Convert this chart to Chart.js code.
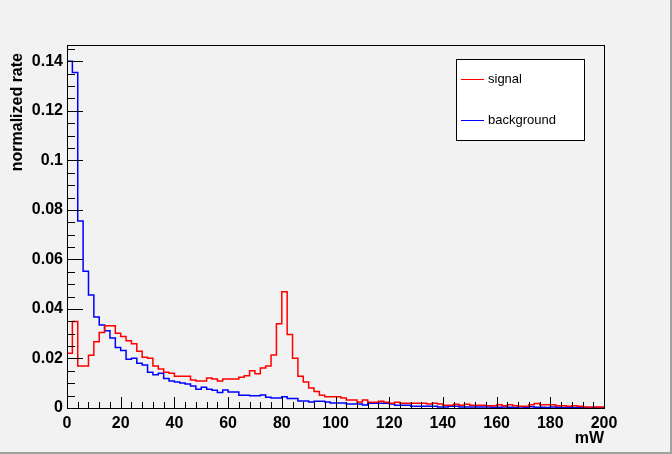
<!DOCTYPE html>
<html>
<head>
<meta charset="utf-8">
<title>signal / background</title>
<script src="https://cdn.jsdelivr.net/npm/chart.js@4.4.1/dist/chart.umd.min.js"></script>
<style>
  html, body { margin: 0; padding: 0; background: #f2f2f2; overflow: hidden; }
  #wrap { width: 672px; height: 454px; }
</style>
</head>
<body>
<div id="wrap"><canvas id="grafica" width="672" height="454"></canvas></div>
<script>
// histogramas de 100 bins de 2 mW (0 - 200 mW)
const binWidth = 2;

const signal = [
  0.0221, 0.0349, 0.0170, 0.0170, 0.0213, 0.0268, 0.0305, 0.0332, 0.0332, 0.0302,
  0.0289, 0.0272, 0.0259, 0.0229, 0.0205, 0.0201, 0.0170, 0.0158, 0.0144, 0.0140,
  0.0128, 0.0128, 0.0128, 0.0113, 0.0109, 0.0109, 0.0121, 0.0117, 0.0109, 0.0117,
  0.0117, 0.0117, 0.0124, 0.0130, 0.0150, 0.0138, 0.0162, 0.0170, 0.0214, 0.0340,
  0.0469, 0.0297, 0.0201, 0.0128, 0.0105, 0.0081, 0.0067, 0.0051, 0.0045, 0.0045,
  0.0045, 0.0040, 0.0032, 0.0032, 0.0024, 0.0032, 0.0023, 0.0023, 0.0027, 0.0023,
  0.0019, 0.0023, 0.0019, 0.0019, 0.0019, 0.0019, 0.0019, 0.0016, 0.0019, 0.0016,
  0.0011, 0.0011, 0.0015, 0.0011, 0.0015, 0.0011, 0.0011, 0.0011, 0.0009, 0.0009,
  0.0013, 0.0009, 0.0013, 0.0009, 0.0007, 0.0007, 0.0013, 0.0018, 0.0013, 0.0013,
  0.0013, 0.0009, 0.0009, 0.0007, 0.0009, 0.0007, 0.0004, 0.0004, 0.0004, 0.0004
];

const background = [
  0.1400, 0.1355, 0.0755, 0.0552, 0.0456, 0.0368, 0.0335, 0.0312, 0.0283, 0.0244,
  0.0232, 0.0197, 0.0201, 0.0181, 0.0174, 0.0144, 0.0134, 0.0140, 0.0119, 0.0109,
  0.0105, 0.0101, 0.0097, 0.0089, 0.0076, 0.0084, 0.0076, 0.0072, 0.0063, 0.0073,
  0.0065, 0.0065, 0.0051, 0.0051, 0.0049, 0.0049, 0.0053, 0.0043, 0.0040, 0.0040,
  0.0045, 0.0038, 0.0038, 0.0028, 0.0028, 0.0024, 0.0027, 0.0027, 0.0024, 0.0020,
  0.0020, 0.0020, 0.0016, 0.0016, 0.0016, 0.0012, 0.0019, 0.0019, 0.0019, 0.0019,
  0.0016, 0.0011, 0.0011, 0.0011, 0.0007, 0.0007, 0.0007, 0.0007, 0.0007, 0.0004,
  0.0004, 0.0007, 0.0007, 0.0004, 0.0004, 0.0004, 0.0004, 0.0004, 0.0004, 0.0003,
  0.0003, 0.0004, 0.0003, 0.0002, 0.0004, 0.0003, 0.0005, 0.0003, 0.0003, 0.0002,
  0.0004, 0.0003, 0.0002, 0.0003, 0.0002, 0.0002, 0.0002, 0.0001, 0.0002, 0.0001
];

const xTicks = [0, 20, 40, 60, 80, 100, 120, 140, 160, 180, 200];
const xTickLabels = ['0', '20', '40', '60', '80', '100', '120', '140', '160', '180', '200'];
const yTicks = [0, 0.02, 0.04, 0.06, 0.08, 0.1, 0.12, 0.14];
const yTickLabels = ['0', '0.02', '0.04', '0.06', '0.08', '0.1', '0.12', '0.14'];

// puntos escalonados: borde izquierdo de cada bin
function pasos(valores) {
  const pts = [{ x: 0, y: 0 }];
  valores.forEach((v, i) => pts.push({ x: i * binWidth, y: v }));
  pts.push({ x: valores.length * binWidth, y: 0 });
  return pts;
}

const fuente = 'Liberation Sans, Arial, sans-serif';

// fondo, marco, ticks hacia adentro, leyenda y titulos (estilo ROOT)
const marco = {
  id: 'marco',
  beforeDraw(chart) {
    const ctx = chart.ctx;
    ctx.save();
    ctx.fillStyle = '#f2f2f2';
    ctx.fillRect(0, 0, chart.width, chart.height);
    ctx.fillStyle = '#a0a0a0';
    ctx.fillRect(chart.width - 2, 0, 2, chart.height);
    ctx.fillRect(0, chart.height - 2, chart.width, 2);
    ctx.restore();
  },
  afterDatasetsDraw(chart) {
    const { ctx, chartArea: a, scales: { x, y } } = chart;
    ctx.save();
    ctx.strokeStyle = '#000';
    ctx.lineWidth = 1;
    ctx.strokeRect(a.left + 0.5, a.top + 0.5, a.right - a.left, a.bottom - a.top);

    ctx.beginPath();
    // eje x: mayores cada 20, menores cada 4
    for (let i = 0; i < xTicks.length; i++) {
      const px = Math.round(x.getPixelForValue(xTicks[i])) + 0.5;
      ctx.moveTo(px, a.bottom);
      ctx.lineTo(px, a.bottom - 11);
      if (i < xTicks.length - 1) {
        const paso = (xTicks[i + 1] - xTicks[i]) / 5;
        for (let j = 1; j < 5; j++) {
          const pm = Math.round(x.getPixelForValue(xTicks[i] + j * paso)) + 0.5;
          ctx.moveTo(pm, a.bottom);
          ctx.lineTo(pm, a.bottom - 6);
        }
      }
    }
    // eje y: mayores cada 0.02, menores cada 0.005
    const pasoY = (yTicks[1] - yTicks[0]) / 4;
    for (let i = 0; i < yTicks.length; i++) {
      const py = Math.round(y.getPixelForValue(yTicks[i])) + 0.5;
      ctx.moveTo(a.left, py);
      ctx.lineTo(a.left + 16, py);
      for (let j = 1; j < 4; j++) {
        const v = yTicks[i] + j * pasoY;
        if (v > y.max) break;
        const pm = Math.round(y.getPixelForValue(v)) + 0.5;
        ctx.moveTo(a.left, pm);
        ctx.lineTo(a.left + 8, pm);
      }
    }
    ctx.stroke();
    ctx.restore();
  },
  afterDraw(chart) {
    const ctx = chart.ctx;
    ctx.save();

    // titulos de ejes
    ctx.fillStyle = '#000';
    ctx.font = 'bold 16px ' + fuente;
    ctx.textAlign = 'right';
    ctx.textBaseline = 'middle';
    ctx.fillText('mW', chart.chartArea.right, 439);
    ctx.translate(18, 53);
    ctx.rotate(-Math.PI / 2);
    ctx.fillText('normalized rate', 0, 0);
    ctx.setTransform(1, 0, 0, 1, 0, 0);

    // leyenda
    ctx.fillStyle = '#ffffff';
    ctx.fillRect(457, 59, 127, 81);
    ctx.strokeStyle = '#000';
    ctx.lineWidth = 1;
    ctx.strokeRect(456.5, 59.5, 128, 81);
    const entradas = chart.data.datasets;
    const filas = [79.5, 120.5];
    ctx.font = '13px ' + fuente;
    ctx.textAlign = 'left';
    entradas.forEach((ds, i) => {
      ctx.strokeStyle = ds.borderColor;
      ctx.beginPath();
      ctx.moveTo(461, filas[i]);
      ctx.lineTo(484, filas[i]);
      ctx.stroke();
      ctx.fillStyle = '#000';
      ctx.fillText(ds.label, 488, filas[i]);
    });
    ctx.restore();
  }
};

new Chart(document.getElementById('grafica'), {
  type: 'line',
  data: {
    datasets: [
      {
        label: 'signal',
        data: pasos(signal),
        borderColor: '#ff0000',
        borderWidth: 1.5,
        stepped: 'before',
        pointRadius: 0,
        fill: false
      },
      {
        label: 'background',
        data: pasos(background),
        borderColor: '#0000ff',
        borderWidth: 1.5,
        stepped: 'before',
        pointRadius: 0,
        fill: false
      }
    ]
  },
  options: {
    responsive: false,
    animation: false,
    layout: { padding: { top: 45, right: 68, left: 0, bottom: 0 } },
    plugins: {
      legend: { display: false },
      tooltip: { enabled: false }
    },
    scales: {
      x: {
        type: 'linear',
        min: 0,
        max: 200,
        grid: { display: false, drawTicks: false },
        border: { display: false },
        afterFit: s => { s.height = 46; },
        afterBuildTicks: s => { s.ticks = xTicks.map(v => ({ value: v })); },
        ticks: {
          font: { family: fuente, size: 16, weight: 'bold' },
          color: '#000',
          padding: 6,
          maxRotation: 0,
          autoSkip: false,
          callback: (v, i) => xTickLabels[i]
        }
      },
      y: {
        type: 'linear',
        min: 0,
        max: 0.1466,
        grid: { display: false, drawTicks: false },
        border: { display: false },
        afterFit: s => { s.width = 67; },
        afterBuildTicks: s => { s.ticks = yTicks.map(v => ({ value: v })); },
        ticks: {
          font: { family: fuente, size: 16, weight: 'bold' },
          color: '#000',
          padding: 4,
          autoSkip: false,
          callback: (v, i) => yTickLabels[i]
        }
      }
    }
  },
  plugins: [marco]
});
</script>
</body>
</html>
